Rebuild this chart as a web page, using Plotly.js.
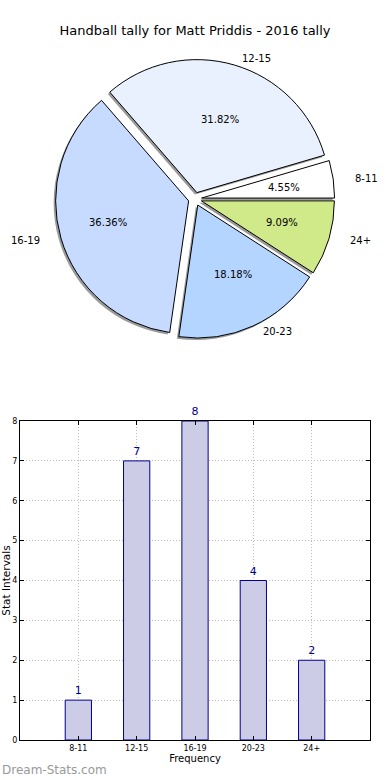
<!DOCTYPE html>
<html>
<head>
<meta charset="utf-8">
<script src="https://cdn.plot.ly/plotly-3.0.1.min.js"></script>
<style>html,body{margin:0;padding:0;background:#fff;}#chart{width:390px;height:780px;}</style>
</head>
<body>
<div id="chart"></div>
<script>
// ---- data ----
const categories = ['8-11', '12-15', '16-19', '20-23', '24+'];
const counts = [1, 7, 8, 4, 2];
const sliceColors = ['#ffffff', '#e9f1ff', '#c6dbff', '#b4d5ff', '#d0ea8a'];
const chartTitle = 'Handball tally for Matt Priddis - 2016 tally';
const xTitle = 'Frequency';
const yTitle = 'Stat Intervals';
const watermark = 'Dream-Stats.com';

// ---- layout constants (pixels) ----
const W = 390, H = 780;
const M = {l: 20, r: 20, t: 20, b: 40};
const PW = W - M.l - M.r, PH = H - M.t - M.b;
const fx = px => (px - M.l) / PW;
const fy = py => (H - M.b - py) / PH;

const pieCx = 195, pieCy = 199, pieR = 133, pull = 0.05;
const labRx = 139, labRy = 127; // text placement radii
const half = pieR * (1 + pull);
const pieDomain = {x: [fx(pieCx - half), fx(pieCx + half)], y: [fy(pieCy + half), fy(pieCy - half)]};
const sh = 2;
const shadowDomain = {x: [fx(pieCx - half - sh), fx(pieCx + half - sh)], y: [fy(pieCy + half + sh), fy(pieCy - half + sh)]};

const font = 'DejaVu Sans, Verdana, sans-serif';
const total = counts.reduce((a, b) => a + b, 0);
// first slice starts at 3 o'clock and runs counterclockwise
const startRotation = 90 - 360 * counts[0] / total;

const shadow = {
  type: 'pie', labels: categories, values: counts, sort: false,
  direction: 'counterclockwise', rotation: startRotation,
  pull: counts.map(() => pull), domain: shadowDomain,
  marker: {colors: counts.map(() => '#9a9a9a'), line: {width: 0}},
  textinfo: 'none', hoverinfo: 'skip', showlegend: false
};
const pie = {
  type: 'pie', labels: categories, values: counts, sort: false,
  direction: 'counterclockwise', rotation: startRotation,
  pull: counts.map(() => pull), domain: pieDomain,
  marker: {colors: sliceColors, line: {color: '#000', width: 1}},
  textinfo: 'none', hoverinfo: 'label+percent', showlegend: false
};
const bars = {
  type: 'bar', x: categories, y: counts, width: 0.45,
  marker: {color: '#ccccE6', line: {color: '#00008b', width: 1}},
  text: counts.map(String), textposition: 'outside', cliponaxis: false,
  textfont: {family: font, size: 11, color: '#00008b'},
  hoverinfo: 'x+y', showlegend: false, xaxis: 'x', yaxis: 'y'
};

// pie text annotations (matplotlib style: pct at 0.65r, labels at 1.15r)
const annotations = [];
let cum = 0;
counts.forEach((v, i) => {
  const mid = (cum + v / 2) / total * 2 * Math.PI;
  cum += v;
  const c = Math.cos(mid), s = Math.sin(mid);
  annotations.push({
    xref: 'paper', yref: 'paper', showarrow: false,
    x: fx(pieCx + 0.65 * labRx * c), y: fy(pieCy - 0.65 * labRy * s),
    xanchor: 'center', yanchor: 'middle',
    text: (v / total * 100).toFixed(2) + '%',
    font: {family: font, size: 10, color: '#000'}
  });
  annotations.push({
    xref: 'paper', yref: 'paper', showarrow: false,
    x: fx(pieCx + 1.15 * labRx * c), y: fy(pieCy - 1.15 * labRy * s),
    xanchor: c >= 0 ? 'left' : 'right', yanchor: 'middle',
    text: categories[i],
    font: {family: font, size: 10, color: '#000'}
  });
});
annotations.push({
  xref: 'paper', yref: 'paper', showarrow: false,
  x: fx(0), y: fy(770), xanchor: 'left', yanchor: 'middle',
  text: watermark, font: {family: font, size: 12, color: '#999'}
});

const axisCommon = {
  showline: true, mirror: 'ticks', linecolor: '#000', linewidth: 1,
  ticks: 'inside', ticklen: 4, tickcolor: '#000',
  showgrid: true, gridcolor: '#bcbcbc', griddash: '1px,2px', gridwidth: 1,
  zeroline: false, tickfont: {family: font, size: 8, color: '#000'}, fixedrange: true
};

const layout = {
  width: W, height: H, margin: M,
  paper_bgcolor: '#fff', plot_bgcolor: '#fff',
  font: {family: font, color: '#000'},
  title: {text: chartTitle, font: {family: font, size: 13, color: '#000'},
          x: 0.5, xref: 'container', xanchor: 'center', y: 1 - 30 / H, yref: 'container', yanchor: 'middle'},
  xaxis: Object.assign({}, axisCommon, {
    type: 'category', range: [-1, 5], domain: [0, 1], anchor: 'y',
    title: {text: xTitle, font: {family: font, size: 10, color: '#000'}, standoff: 0}
  }),
  yaxis: Object.assign({}, axisCommon, {
    range: [0, 8], dtick: 1, domain: [0, fy(421)], anchor: 'x',
    title: {text: yTitle, font: {family: font, size: 10.5, color: '#000'}, standoff: 0}
  }),
  annotations: annotations,
  showlegend: false
};

Plotly.newPlot('chart', [shadow, pie, bars], layout, {displayModeBar: false, staticPlot: true});
</script>
</body>
</html>
